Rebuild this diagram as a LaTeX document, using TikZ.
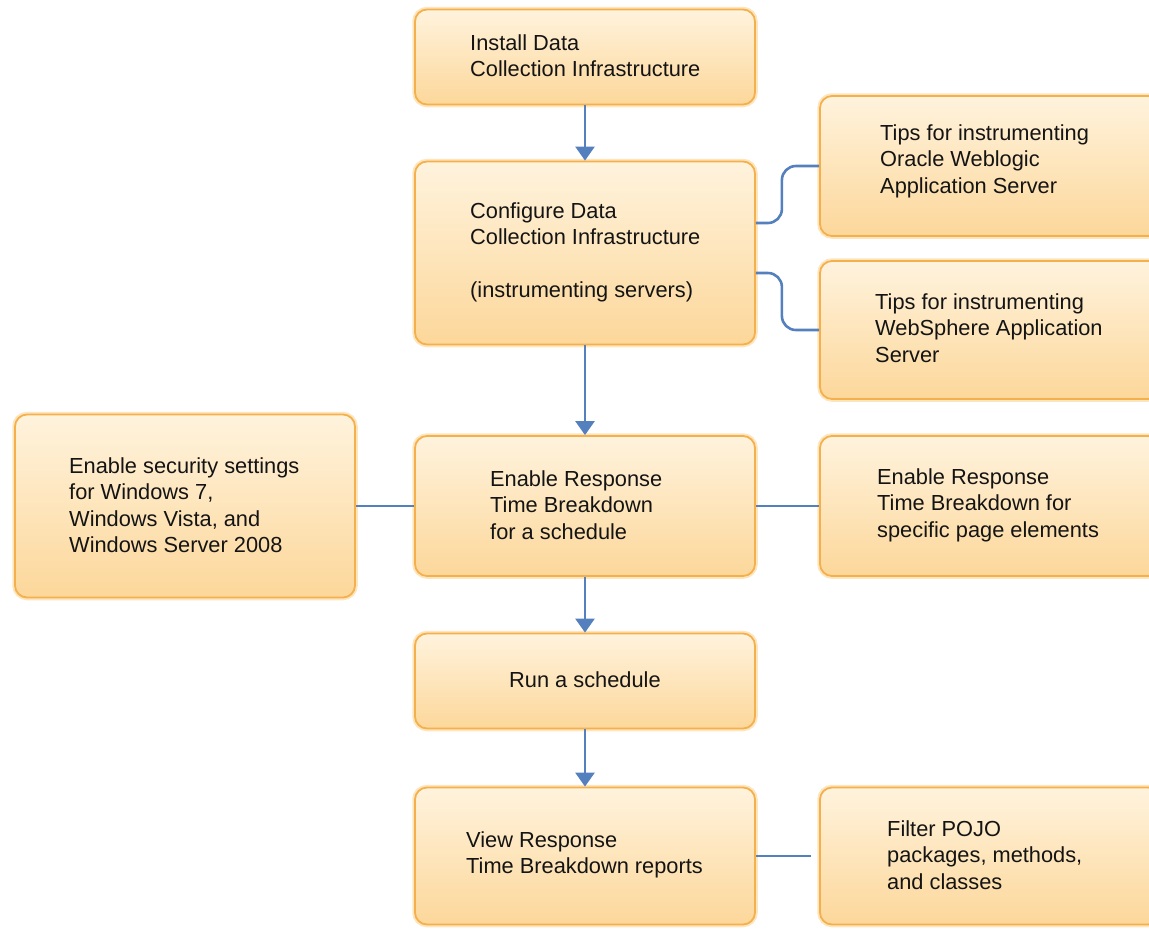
\documentclass[tikz,border=0pt]{standalone}
\usepackage{fontspec}
\setmainfont{Liberation Sans}
\usetikzlibrary{arrows.meta,calc}
\definecolor{boxtop}{HTML}{FFF3DD}
\definecolor{boxbot}{HTML}{FCD79A}
\definecolor{boxline}{HTML}{F5B04E}
\definecolor{boxglow}{HTML}{FDE6BE}
\definecolor{conncol}{HTML}{5580BE}
\tikzset{
 flowbox/.style={rectangle, rounded corners=12pt, draw=boxline, line width=1.8pt,
   top color=boxtop, bottom color=boxbot, inner sep=0pt,
   preaction={draw=boxglow, line width=5.5pt}},
 lbl/.style={anchor=west, align=left, inner sep=0pt,
   font=\fontsize{21.8}{26.5}\selectfont, text=black!92},
 link/.style={draw=conncol, line width=2.6pt},
 flow/.style={link, -{Triangle[length=14pt,width=19pt]}},
}
\begin{document}
\begin{tikzpicture}[x=1pt,y=-1pt]
\useasboundingbox (0,0) rectangle (1149,930);
\clip (0,0) rectangle (1149,930);
\fill[white] (0,0) rectangle (1149,930);
% boxes
\node[flowbox, minimum width=340pt, minimum height=95pt] (install) at (585,57) {};
\node[flowbox, minimum width=340pt, minimum height=183pt] (conf) at (585,253) {};
\node[flowbox, minimum width=340pt, minimum height=140pt] (oracle) at (990,166) {};
\node[flowbox, minimum width=340pt, minimum height=138pt] (websph) at (990,330) {};
\node[flowbox, minimum width=340pt, minimum height=183pt] (secur) at (185,506) {};
\node[flowbox, minimum width=340pt, minimum height=140pt] (rtb) at (585,506) {};
\node[flowbox, minimum width=340pt, minimum height=140pt] (spec) at (990,506) {};
\node[flowbox, minimum width=340pt, minimum height=95pt] (run) at (585,681) {};
\node[flowbox, minimum width=340pt, minimum height=137pt] (view) at (585,856) {};
\node[flowbox, minimum width=340pt, minimum height=137pt] (filter) at (990,856) {};
% labels
\node[lbl] (tinstall) at (470,55.5) {Install Data\\Collection Infrastructure};
\node[lbl] (tconf) at (470,252.5) {Configure Data\\Collection Infrastructure\\~\\(instrumenting servers)};
\node[lbl] (toracle) at (880,161) {Tips for instrumenting\\Oracle Weblogic\\Application Server};
\node[lbl] (twebsph) at (875,328) {Tips for instrumenting\\WebSphere Application\\Server};
\node[lbl] (tsecur) at (69,505) {Enable security settings\\for Windows 7,\\Windows Vista, and\\Windows Server 2008};
\node[lbl] (trtb) at (490,505) {Enable Response\\Time Breakdown\\for a schedule};
\node[lbl] (tspec) at (877,505) {Enable Response\\Time Breakdown for\\specific page elements};
\node[lbl] (trun) at (509,680) {Run a schedule};
\node[lbl] (tview) at (466,855) {View Response\\Time Breakdown reports};
\node[lbl] (tfilter) at (887,855) {Filter POJO\\packages, methods,\\and classes};
% flow arrows
\draw[flow] (install.south) -- (conf.north);
\draw[flow] (conf.south) -- (rtb.north);
\draw[flow] (rtb.south) -- (run.north);
\draw[flow] (run.south) -- (view.north);
% side links
\draw[link, rounded corners=14pt] ($(conf.east)+(0,-30)$) -- ++(26,0) |- (oracle.west);
\draw[link, rounded corners=14pt] ($(conf.east)+(0,20)$) -- ++(26,0) |- (websph.west);
\draw[link] (secur.east) -- (rtb.west);
\draw[link] (rtb.east) -- (spec.west);
\draw[link, shorten >=8pt] (view.east) -- (filter.west);
\end{tikzpicture}
\end{document}
